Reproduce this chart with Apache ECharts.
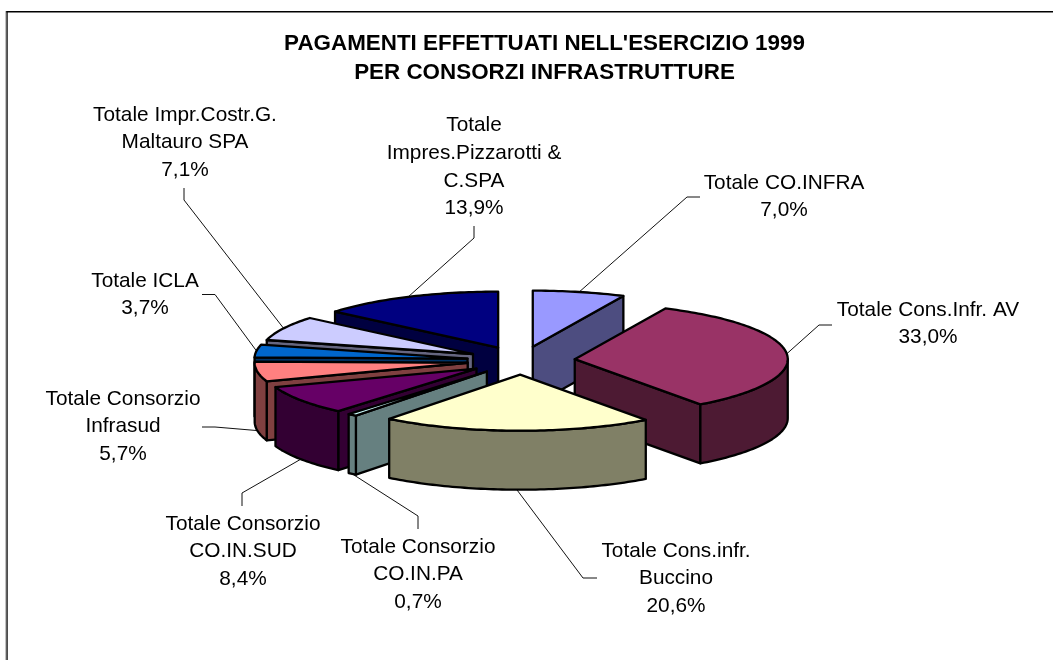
<!DOCTYPE html>
<html>
<head>
<meta charset="utf-8">
<style>html,body{margin:0;padding:0;background:#fff}#c{width:1053px;height:660px}</style>
<script src="https://cdn.jsdelivr.net/npm/echarts@6/dist/echarts.min.js"></script>
</head>
<body>
<div id="c"></div>
<script>
var titleText = "PAGAMENTI EFFETTUATI NELL'ESERCIZIO 1999\nPER CONSORZI INFRASTRUTTURE";
var names = ["Totale CO.INFRA", "Totale Cons.Infr. AV", "Totale Cons.infr.\nBuccino", "Totale Consorzio\nCO.IN.PA", "Totale Consorzio\nCO.IN.SUD", "Totale Consorzio\nInfrasud", "Totale ICLA", "Totale Impr.Costr.G.\nMaltauro SPA", "Totale\nImpres.Pizzarotti &\nC.SPA"];
var values = [7.0, 33.0, 20.6, 0.7, 8.4, 5.7, 3.7, 7.1, 13.9];
var topColors = ["#9999FF", "#993366", "#FFFFCC", "#CCFFFF", "#660066", "#FF8080", "#0066CC", "#CCCCFF", "#000080"];
var sideColors = ["#4D4D80", "#4D1A33", "#808066", "#668080", "#330033", "#804040", "#003366", "#666680", "#000040"];

// layout of labels: text centre x, first-line centre y; leader start and elbow
var labelPos = [[784, 183], [928, 310], [676, 551], [418, 547], [243, 524], [123, 399], [145, 281], [185, 115], [474, 125.5]];
var leaderStart = [[700, 197], [832, 325], [597, 578], [418, 529], [242, 506], [202, 427], [202, 294.5], [184, 188], [474, 226]];
var leaderElbow = [[687, 197], [819, 325], [583, 578], [418, 516], [242, 493], [215, 427], [215, 294.5], [184, 200], [474, 238]];

var CX = 521, CY = 360.5, RX = 213, RY = 56, DEPTH = 59, EXPLODE = 0.2535, LINE = 27.7;
var total = values.reduce(function (a, b) { return a + b; }, 0);
var cum = [];
values.reduce(function (a, v, i) { cum[i] = a; return a + v; }, 0);
function ang(v) { return v / total * Math.PI * 2; }
var mids = values.map(function (v, i) { return ang(cum[i] + v / 2); });
var ranks = values.map(function (v, i) { return i; }).sort(function (a, b) { return Math.cos(mids[b]) - Math.cos(mids[a]); });

function renderSlice(params, api) {
  var i = params.dataIndex;
  var v = api.value(0);
  var t0 = ang(cum[i]), t1 = ang(cum[i] + v), tm = mids[i];
  var ax = CX + EXPLODE * RX * Math.sin(tm), ay = CY - EXPLODE * RY * Math.cos(tm);
  var pt = function (t, d) { return [ax + RX * Math.sin(t), ay - RY * Math.cos(t) + (d || 0)]; };
  var arc = function (a, b, d) {
    var n = Math.max(2, Math.ceil((b - a) / 0.02)), r = [];
    for (var k = 0; k <= n; k++) r.push(pt(a + (b - a) * k / n, d));
    return r;
  };
  var z = ranks.indexOf(i) * 10 + 10;
  var kids = [];
  var poly = function (points, fill, zz) {
    kids.push({ type: 'polygon', z2: zz, shape: { points: points }, style: { fill: fill, stroke: '#000', lineWidth: 2.3, lineJoin: 'round' } });
  };
  if (Math.sin(t0) < 0) poly([[ax, ay], pt(t0), pt(t0, DEPTH), [ax, ay + DEPTH]], sideColors[i], z);
  if (Math.sin(t1) > 0) poly([[ax, ay], pt(t1), pt(t1, DEPTH), [ax, ay + DEPTH]], sideColors[i], z + 1);
  var ra = Math.max(t0, Math.PI / 2), rb = Math.min(t1, Math.PI * 1.5);
  if (rb > ra) poly(arc(ra, rb, 0).concat(arc(ra, rb, DEPTH).reverse()), sideColors[i], z + 2);
  poly([[ax, ay]].concat(arc(t0, t1, 0)), topColors[i], z + 3);

  var end = pt(tm, Math.cos(tm) < 0 ? DEPTH : 0);
  kids.push({ type: 'polyline', z2: 1, shape: { points: [leaderStart[i], leaderElbow[i], end] }, style: { fill: null, stroke: '#111', lineWidth: 1 } });

  var text = names[i] + '\n' + v.toFixed(1).replace('.', ',') + '%';
  kids.push({
    type: 'text', z2: 200, x: labelPos[i][0], y: labelPos[i][1] - LINE / 2,
    style: { text: text, fill: '#000', font: '20.8px "Liberation Sans", Arial, sans-serif', lineHeight: LINE, align: 'center', verticalAlign: 'top' }
  });
  return { type: 'group', children: kids };
}

var chart = echarts.init(document.getElementById('c'), null, { renderer: 'canvas' });
chart.setOption({
  animation: false,
  backgroundColor: '#fff',
  title: {
    text: titleText, left: 539.5, top: 24, textAlign: 'center',
    textStyle: { fontFamily: '"Liberation Sans", Arial, sans-serif', fontWeight: 'bold', fontSize: 22.4, lineHeight: 29, color: '#000' }
  },
  graphic: [
    { type: 'rect', shape: { x: 6, y: 11, width: 1047, height: 1.5 }, style: { fill: '#000' } },
    { type: 'rect', shape: { x: 5.5, y: 11, width: 1, height: 649 }, style: { fill: '#888' } },
    { type: 'rect', shape: { x: 6.5, y: 11, width: 1.2, height: 649 }, style: { fill: '#000' } }
  ],
  series: [{
    type: 'custom',
    coordinateSystem: 'none',
    renderItem: renderSlice,
    data: values.map(function (v, i) { return { name: names[i], value: [v] }; })
  }]
});
</script>
</body>
</html>
